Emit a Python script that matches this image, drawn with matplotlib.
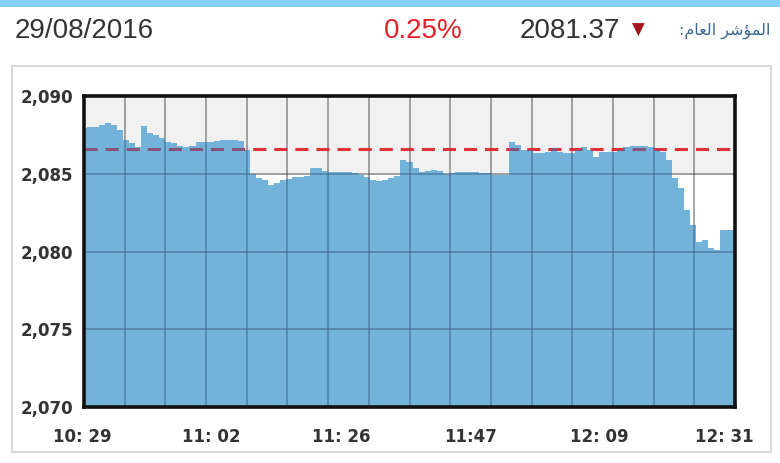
import numpy as np
import matplotlib
matplotlib.use("Agg")
import matplotlib.pyplot as plt
from matplotlib.patches import Rectangle

# ---- data ----
index_values = [
    2087.94, 2088.01, 2088.01, 2088.14, 2088.26, 2088.14, 2087.81, 2087.17, 2086.98, 2086.72,
    2088.07, 2087.62, 2087.49, 2087.30, 2087.04, 2086.98, 2086.78, 2086.72, 2086.78, 2087.04,
    2087.04, 2087.04, 2087.11, 2087.17, 2087.17, 2087.17, 2087.11, 2086.53, 2084.98, 2084.73,
    2084.60, 2084.28, 2084.41, 2084.60, 2084.66, 2084.79, 2084.79, 2084.86, 2085.37, 2085.37,
    2085.18, 2085.11, 2085.11, 2085.11, 2085.11, 2085.05, 2084.92, 2084.79, 2084.60, 2084.54,
    2084.60, 2084.73, 2084.86, 2085.88, 2085.76, 2085.37, 2085.11, 2085.18, 2085.24, 2085.18,
    2084.98, 2085.05, 2085.11, 2085.11, 2085.11, 2085.11, 2085.05, 2085.05, 2084.92, 2084.92,
    2084.92, 2087.04, 2086.85, 2086.53, 2086.53, 2086.33, 2086.33, 2086.40, 2086.66, 2086.40,
    2086.33, 2086.33, 2086.53, 2086.72, 2086.53, 2086.08, 2086.40, 2086.40, 2086.40, 2086.53,
    2086.72, 2086.78, 2086.78, 2086.78, 2086.72, 2086.53, 2086.40, 2085.88, 2084.73, 2084.08,
    2082.67, 2081.70, 2080.61, 2080.74, 2080.23, 2080.10, 2081.38, 2081.38, 2081.37,
]
previous_close = 2086.59
time_labels = ["10: 29", "11: 02", "11: 26", "11:47", "12: 09", "12: 31"]
y_ticks = [2070, 2075, 2080, 2085, 2090]
y_tick_labels = ["2,070", "2,075", "2,080", "2,085", "2,090"]
header_date = "29/08/2016"
header_change = "0.25%"
header_value = "2081.37"
# "المؤشر العام:" written in visual order with Arabic presentation forms
header_title = "\u003A\uFEE1\uFE8E\uFECC\uFEDF\uFE8D \uFEAE\uFEB7\uFE86\uFEE4\uFEDF\uFE8D"

W, H = 780, 463
fig = plt.figure(figsize=(W / 100, H / 100), dpi=100)
fig.patch.set_facecolor("white")

# top blue band
fig.patches.append(Rectangle((0, 1 - 7 / H), 1, 7 / H, transform=fig.transFigure,
                             facecolor="#86d0f5", edgecolor="none", zorder=-2))
# outer panel
fig.patches.append(Rectangle((12 / W, 1 - 452 / H), (771 - 12) / W, (452 - 66) / H,
                             transform=fig.transFigure, facecolor="white",
                             edgecolor="#d9d9d9", lw=1.5, zorder=-2))

ax_l, ax_r, ax_t, ax_b = 84, 735, 96, 407
ax = fig.add_axes([ax_l / W, 1 - ax_b / H, (ax_r - ax_l) / W, (ax_b - ax_t) / H])
ax.set_zorder(2)

n = len(index_values)
x = np.linspace(0, 1, n)
ax.set_xlim(0, 1)
ax.set_ylim(2070, 2090)

ax.axhspan(2085, 2090, color="#f1f1f1", zorder=0)
# base fill (light) + translucent overlay that tints grid and reference line
ax.fill_between(x, 2070, index_values, step="mid", color="#b6f0f6", lw=0, zorder=1)

# grid
for gx in np.linspace(0, 1, 17)[1:-1]:
    ax.axvline(gx, color="#3a3a3a", alpha=0.45, lw=1.4, zorder=2)
for gy in y_ticks[1:-1]:
    ax.axhline(gy, color="#3a3a3a", alpha=0.45, lw=1.4, zorder=2)

ax.axhline(previous_close, color="#e0262e", alpha=0.95, lw=2.2,
           dashes=(4.3, 2.6), zorder=3)

ax.fill_between(x, 2070, index_values, step="mid", color="#3278be", alpha=0.5,
                lw=0, zorder=3.5)

for s in ax.spines.values():
    s.set_linewidth(2.6)
    s.set_color("#111111")
    s.set_zorder(4)

ax.set_yticks(y_ticks)
ax.set_yticklabels(y_tick_labels, fontsize=12, fontweight="bold", color="#333333",
                   family="DejaVu Sans")
ax.tick_params(axis="y", length=0, pad=8)
ax.set_xticks([])

xlabel_pos = [-0.003, 0.195, 0.395, 0.594, 0.791, 0.983]
for xp, lab in zip(xlabel_pos, time_labels):
    ax.text(xp, -0.0965, lab, transform=ax.transAxes, ha="center", va="center",
            fontsize=12, fontweight="bold", color="#333333", family="DejaVu Sans")

# header
ty = 1 - 31 / H
fig.text(15 / W, ty, header_date, ha="left", va="center", fontsize=20,
         color="#333333", family="Liberation Sans")
fig.text(423 / W, ty, header_change, ha="center", va="center", fontsize=20,
         color="#e3212b", family="Liberation Sans")
fig.text(620 / W, ty, header_value, ha="right", va="center", fontsize=20,
         color="#333333", family="Liberation Sans")
fig.text(638 / W, ty + 0.002, "\u25BC", ha="center", va="center", fontsize=12,
         color="#a3161b", family="DejaVu Sans")
fig.text(770 / W, ty, header_title, ha="right", va="center", fontsize=11.5,
         color="#3b6795", family="DejaVu Sans")

fig.savefig("out.png", dpi=100)
